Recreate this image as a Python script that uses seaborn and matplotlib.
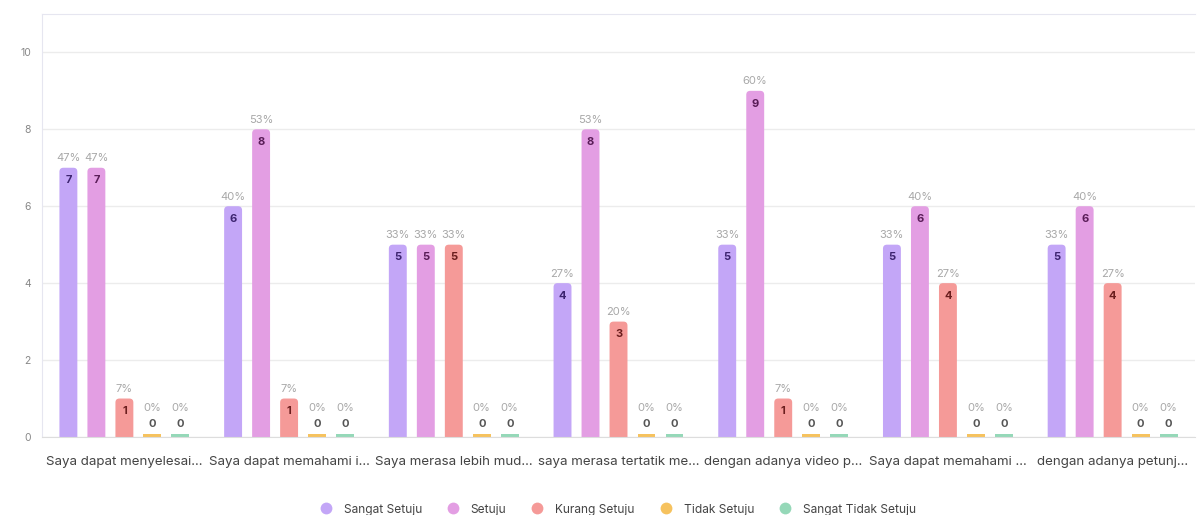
import matplotlib
matplotlib.use("Agg")
import matplotlib.pyplot as plt
import seaborn as sns
import pandas as pd
from matplotlib.lines import Line2D
from matplotlib.patches import FancyBboxPatch

categories = [
    "Saya dapat menyelesai...",
    "Saya dapat memahami i...",
    "Saya merasa lebih mud...",
    "saya merasa tertatik me...",
    "dengan adanya video p...",
    "Saya dapat memahami ...",
    "dengan adanya petunj...",
]
series = ["Sangat Setuju", "Setuju", "Kurang Setuju", "Tidak Setuju", "Sangat Tidak Setuju"]
sangat_setuju = [7, 6, 5, 4, 5, 5, 5]
setuju = [7, 8, 5, 8, 9, 6, 6]
kurang_setuju = [1, 1, 5, 3, 1, 4, 4]
tidak_setuju = [0, 0, 0, 0, 0, 0, 0]
sangat_tidak_setuju = [0, 0, 0, 0, 0, 0, 0]
total_respondents = 15

colors = ["#c3a6f7", "#e39ee3", "#f59a98", "#f6c25e", "#95d8b8"]
text_colors = ["#3d2470", "#5a1d58", "#6b1e1e", "#6b4a10", "#2c5a45"]

values = [sangat_setuju, setuju, kurang_setuju, tidak_setuju, sangat_tidak_setuju]
rows = []
for s, vals in zip(series, values):
    for c, v in zip(categories, vals):
        rows.append({"cat": c, "series": s, "val": v})
df = pd.DataFrame(rows)

sns.set_style("white")
plt.rcParams["font.family"] = ["Inter", "DejaVu Sans"]

fig = plt.figure(figsize=(12.01, 5.15), dpi=100)
ax = fig.add_axes([0.035, 0.1515, 0.96, 0.8215])

sns.barplot(data=df, x="cat", y="val", hue="series", hue_order=series,
            palette=colors, width=0.85, gap=0.36, ax=ax, legend=False,
            saturation=1, edgecolor="none")

ax.set_ylim(0, 11)
ax.set_yticks([0, 2, 4, 6, 8, 10])
ax.set_xlim(-0.5, len(categories) - 0.5)
ax.yaxis.grid(True, color="#ececec", linewidth=1)
ax.set_axisbelow(True)
for side in ["left", "top"]:
    ax.spines[side].set_visible(True)
    ax.spines[side].set_color("#e6e6f0")
ax.spines["right"].set_visible(False)
ax.spines["bottom"].set_color("#dddddd")
ax.tick_params(axis="y", labelsize=7.5, labelcolor="#888888", length=0, pad=8)
ax.tick_params(axis="x", labelsize=9.6, labelcolor="#444444", length=0, pad=14)
ax.set_xlabel("")
ax.set_ylabel("")

# pixel scale for rounded corners
x_per_px = len(categories) / (0.96 * 1201)
y_per_px = 11 / (0.8215 * 515)
radius_px = 4
aspect = y_per_px / x_per_px

patches = [p for p in ax.patches]
n_cat = len(categories)
for si, s in enumerate(series):
    for ci in range(n_cat):
        p = patches[si * n_cat + ci]
        v = values[si][ci]
        xc = p.get_x() + p.get_width() / 2
        if v > 0:
            fb = FancyBboxPatch((p.get_x(), -0.5), p.get_width(), v + 0.5,
                                boxstyle=f"round,pad=0,rounding_size={radius_px * x_per_px}",
                                mutation_aspect=aspect,
                                facecolor=colors[si], edgecolor="none", zorder=2)
            ax.add_patch(fb)
            p.set_visible(False)
        else:
            p.set_height(0.09)
        pct = round(100 * v / total_respondents)
        if v > 0:
            ax.text(xc, v - 0.2, str(v), ha="center", va="top", fontsize=8,
                    fontweight="bold", color=text_colors[si], zorder=3)
            ax.text(xc, v + 0.12, f"{pct}%", ha="center", va="bottom",
                    fontsize=8, color="#a8a8a8", zorder=3)
        else:
            ax.text(xc, 0.22, "0", ha="center", va="bottom", fontsize=8,
                    fontweight="bold", color="#555555", zorder=3)
            ax.text(xc, 0.62, f"{pct}%", ha="center", va="bottom",
                    fontsize=8, color="#a8a8a8", zorder=3)

handles = [Line2D([0], [0], marker="o", linestyle="none", markersize=8.5,
                  markerfacecolor=c, markeredgecolor="none") for c in colors]
fig.legend(handles, series, loc="lower center", bbox_to_anchor=(0.512, -0.022),
           ncol=5, frameon=False, fontsize=8.6, handletextpad=0.5,
           columnspacing=1.6, labelcolor="#444444")

fig.savefig("out.png", dpi=100, facecolor="white")
